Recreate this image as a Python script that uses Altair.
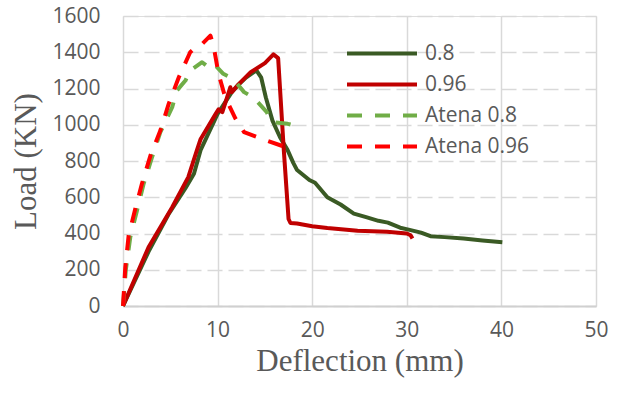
import altair as alt
import pandas as pd

solid_names = ["0.8", "0.96"]
solid_colors = ["#3a5a24", "#c00000"]
dashed_names = ["Atena 0.8", "Atena 0.96"]
dashed_colors = ["#70ad47", "#ff0000"]

x_08 = [0, 2.7, 4.8, 6.6, 7.5, 8.2, 10.0, 11.5, 12.2, 13.0, 14.1, 14.6, 15.1, 15.8, 16.6,
        17.4, 18.0, 18.4, 19.7, 20.3, 21.6, 23.0, 24.4, 25.7, 27.0, 28.0, 29.3, 30.3,
        31.5, 32.5, 34.0, 36.0, 38.0, 40.1]
y_08 = [0, 300, 505, 650, 730, 860, 1060, 1180, 1220, 1260, 1300, 1262, 1150, 1023, 931,
        860, 790, 750, 695, 680, 600, 560, 510, 490, 470, 460, 432, 420,
        405, 385, 380, 372, 362, 352]

x_096 = [0, 2.7, 5.2, 6.9, 7.8, 8.2, 9.8, 10.1, 10.5, 11.35, 11.5, 12.1, 13.5, 15.0,
         15.9, 16.4, 17.0, 17.5, 17.7, 18.4, 20.0, 21.6, 24.8, 27.9, 30.0, 30.4, 30.6]
y_096 = [0, 324, 545, 711, 858, 920, 1060, 1085, 1070, 1207, 1180, 1217, 1290, 1340,
         1388, 1368, 858, 480, 458, 455, 440, 430, 415, 410, 400, 390, 372]

x_at08 = [0, 0.3, 0.77, 1.48, 2.18, 3.07, 3.95, 5.2, 5.7, 6.6, 7.1, 8.36, 9.24, 9.77,
          10.6, 11.6, 12.8, 13.8, 15.2, 15.6, 15.9, 17.4, 18.6]
y_at08 = [0, 200, 380, 527, 674, 821, 959, 1097, 1189, 1244, 1299, 1345, 1309, 1327,
          1281, 1255, 1180, 1150, 1070, 1023, 1014, 1005, 990]

x_at096 = [0, 0.06, 0.24, 0.6, 1.3, 2.0, 2.9, 3.95, 4.83, 5.9, 7.1, 7.9, 8.4, 9.24,
           9.6, 10.1, 10.8, 11.9, 12.8, 14.2, 15.2, 17.0, 18.1]
y_at096 = [0, 49, 214, 390, 536, 674, 830, 968, 1115, 1262, 1400, 1437, 1447, 1492,
           1428, 1281, 1152, 1033, 959, 931, 913, 880, 876]

x_ticks = [0, 10, 20, 30, 40, 50]
y_ticks = [0, 200, 400, 600, 800, 1000, 1200, 1400, 1600]


def make_df(names, xss, yss):
    rows = []
    for name, xs, ys in zip(names, xss, yss):
        for i, (xv, yv) in enumerate(zip(xs, ys)):
            rows.append({"series": name, "deflection": xv, "load": yv, "order": i})
    return pd.DataFrame(rows)


df_solid = make_df(solid_names, [x_08, x_096], [y_08, y_096])
df_dashed = make_df(dashed_names, [x_at08, x_at096], [y_at08, y_at096])

DASH = [15, 13]

legend_common = dict(
    orient="none", legendX=222, title=None,
    symbolType="stroke", symbolSize=4900, symbolStrokeWidth=4,
    clipHeight=31, rowPadding=0, labelFont="Open Sans", labelFontSize=21,
    labelColor="#595959", labelOffset=6, padding=0,
)

x_enc = alt.X("deflection:Q",
              scale=alt.Scale(domain=[0, 50], nice=False),
              axis=alt.Axis(title="Deflection (mm)", values=x_ticks, grid=True,
                            gridColor="#d9d9d9", gridWidth=1.5, ticks=False, tickSize=0,
                            domainColor="#d0d0d0", domainWidth=2, labelFlush=False,
                            labelFont="Open Sans", labelFontSize=21, labelColor="#595959",
                            labelPadding=13, titleFont="Liberation Serif", titleFontSize=31,
                            titleFontWeight="normal", titleColor="#595959", titlePadding=6))
y_enc = alt.Y("load:Q",
              scale=alt.Scale(domain=[0, 1600], nice=False),
              axis=alt.Axis(title="Load (KN)", values=y_ticks, grid=True, format="d",
                            gridColor="#d9d9d9", gridWidth=1.5, gridDash=[15, 6],
                            ticks=False, tickSize=0, domain=False, labelFlush=False,
                            labelFont="Open Sans", labelFontSize=21, labelColor="#595959",
                            labelPadding=23, titleFont="Liberation Serif", titleFontSize=31,
                            titleFontWeight="normal", titleColor="#595959", titlePadding=9))

solid = alt.Chart(df_solid).mark_line(strokeWidth=4, strokeJoin="round").encode(
    x=x_enc, y=y_enc,
    color=alt.Color("series:N", scale=alt.Scale(domain=solid_names, range=solid_colors),
                    legend=alt.Legend(legendY=22, **legend_common)),
    order="order:Q",
)

dashed = alt.Chart(df_dashed).mark_line(strokeWidth=4, strokeJoin="round", strokeDash=DASH).encode(
    x=x_enc, y=y_enc,
    color=alt.Color("series:N", scale=alt.Scale(domain=dashed_names, range=dashed_colors),
                    legend=alt.Legend(legendY=84, symbolDash=DASH, **legend_common)),
    order="order:Q",
)

chart = alt.layer(solid, dashed).resolve_scale(color="independent").properties(
    width=473, height=290,
    autosize=alt.AutoSizeParams(type="none"),
    padding={"left": 123, "top": 16, "right": 30, "bottom": 88},
).configure_view(
    fill="#f2f2f2", stroke=None,
).configure(background="white")

chart.save("out.html", embed_options={"renderer": "svg", "actions": False})
